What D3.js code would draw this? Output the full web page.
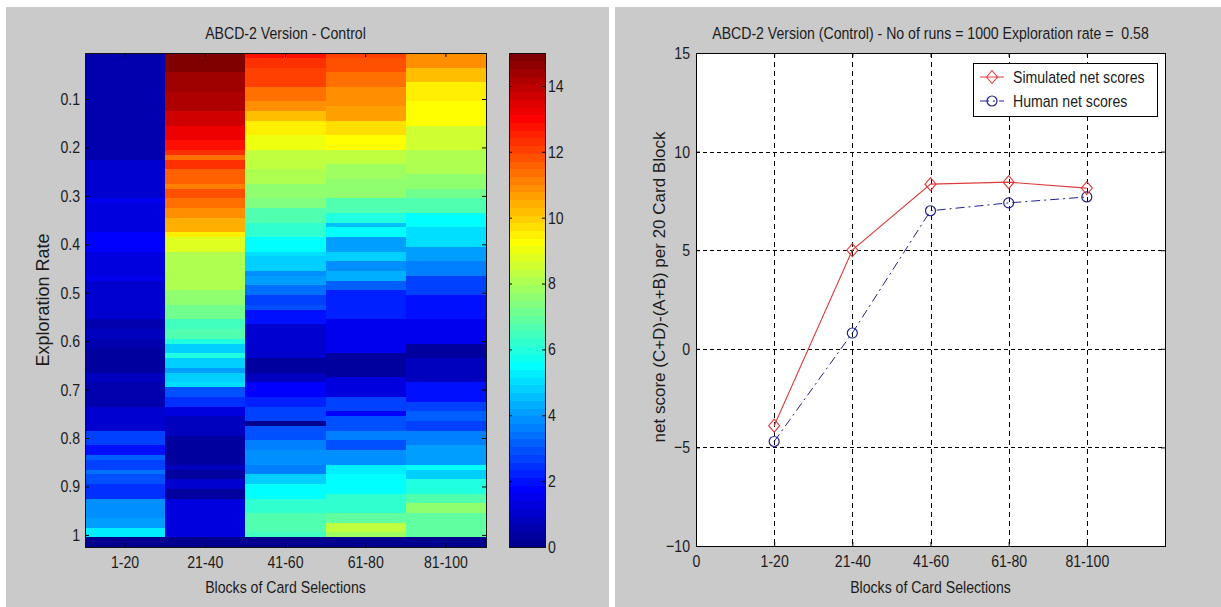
<!DOCTYPE html>
<html>
<head>
<meta charset="utf-8">
<script src="https://cdn.jsdelivr.net/npm/d3@7"></script>
<style>
  html, body { margin: 0; padding: 0; background: #ffffff; }
  svg { display: block; }
  text { font-family: "Liberation Sans Narrow", "Arial Narrow", "Liberation Sans", sans-serif; font-size: 17px; fill: #1c1c1c; white-space: pre; }
  .rot { font-family: "Liberation Sans", Arial, sans-serif; }
</style>
</head>
<body>
<svg id="fig" width="1221" height="607"></svg>
<script>
// ---------------- data ----------------
const blocks = ["1-20", "21-40", "41-60", "61-80", "81-100"];
const rateTicks = [0.1, 0.2, 0.3, 0.4, 0.5, 0.6, 0.7, 0.8, 0.9, 1];
const colorTicks = [0, 2, 4, 6, 8, 10, 12, 14];
const colorLimits = [0, 15];

// exploration rate of each heatmap row (step 0.01), last two rows are the empty tail
const explorationRates = d3.range(1, 103).map(i => i / 100);

// mean net score per exploration rate, one array per block of 20 cards
const block1 = [
  0.6,0.6,0.6,0.6,0.6,0.55,0.55,0.55,0.55,0.55,
  0.6,0.6,0.6,0.6,0.6,0.65,0.65,0.65,0.65,0.65,
  0.65,0.65,1.1,1.1,1.1,1.1,1.1,1.1,1.1,1.1,
  1.6,1.3,1.3,1.3,1.3,1.3,1.3,1.7,1.7,1.7,
  1.7,1.3,1.3,1.3,1.3,1.3,1.5,1.1,1.1,1.1,
  1.1,1.1,1.1,1.1,1.1,0.5,0.5,0.9,0.9,0.6,
  0.6,0.3,0.3,0.3,0.3,0.3,0.8,0.8,0.5,0.5,
  0.5,0.5,0.5,1.1,1.1,1.0,1.0,1.0,2.6,2.6,
  2.6,2.0,2.0,3.2,2.6,2.6,3.4,3.0,3.0,2.5,
  2.5,2.5,3.9,3.9,3.9,3.9,4.1,4.1,5.2,5.2,
  0,0
];
const block2 = [
  14.8,14.8,14.8,14.8,14.5,14.5,14.5,14.5,14.2,14.2,
  14.2,14.2,13.8,13.8,13.8,13.3,13.3,13.3,12.8,12.8,
  12.2,11.3,12.3,12.3,11.6,11.6,11.6,11.2,11.8,11.8,
  11.4,11.4,11.0,11.0,10.4,10.4,10.4,9.6,8.7,8.7,
  8.7,8.2,8.2,8.2,8.2,8.2,8.2,8.2,8.2,7.6,
  7.6,7.6,7.1,7.1,7.1,6.4,6.4,6.7,6.7,6.0,
  4.9,4.9,6.0,4.7,4.7,4.1,4.7,4.7,5.0,3.0,
  3.0,2.4,2.4,1.3,1.3,0.9,0.9,0.9,0.9,0.3,
  0.3,0.3,0.3,0.3,0.3,0.9,0.45,0.45,1.1,1.1,
  0.3,0.3,1.3,1.3,1.3,1.3,1.3,1.3,1.3,1.3,
  0,0
];
const block3 = [
  12.8,12.4,12.4,12.0,12.0,12.0,12.0,11.4,11.4,11.4,
  10.9,10.9,10.3,10.3,9.6,9.6,9.6,9.0,9.0,9.0,
  8.4,8.4,8.4,8.4,8.0,8.0,8.0,7.7,7.7,7.7,
  7.3,7.3,6.7,6.7,6.7,6.2,6.2,6.2,5.6,5.6,
  5.6,5.1,4.7,4.7,4.7,3.8,4.1,4.1,3.4,3.4,
  2.8,2.8,3.0,2.1,2.1,2.1,1.1,1.1,1.1,1.1,
  1.1,1.1,1.1,0.4,0.4,0.4,0.9,0.9,1.7,1.7,
  1.7,2.2,2.2,2.8,2.8,2.8,0.2,3.0,3.0,3.0,
  3.6,3.6,3.9,3.9,3.9,3.6,3.6,4.9,4.9,5.4,
  5.4,5.4,6.2,6.2,6.2,6.7,6.7,6.7,6.7,6.5,
  0,0
];
const block4 = [
  12.0,11.8,11.8,11.8,11.4,11.4,11.4,11.0,11.0,11.0,
  11.0,10.6,10.6,10.6,9.7,9.7,9.7,9.2,9.2,9.2,
  8.4,8.4,8.4,7.9,7.9,7.9,7.5,7.5,7.5,7.5,
  6.7,6.7,6.7,6.0,6.0,4.5,5.4,5.4,4.1,4.1,
  4.1,4.7,4.7,3.9,3.9,4.3,4.3,3.2,3.2,2.2,
  2.2,2.2,2.2,2.2,2.2,1.5,1.5,1.5,1.5,1.5,
  1.5,1.5,0.4,0.4,0.4,0.4,0.4,1.3,1.3,1.3,
  1.3,2.8,2.8,2.8,1.8,3.0,3.0,3.0,3.6,3.6,
  3.0,3.0,3.8,3.8,3.8,5.2,5.2,5.6,5.6,5.6,
  5.6,6.2,6.2,6.2,6.2,7.0,7.0,8.4,8.4,7.9,
  0,0
];
const block5 = [
  10.9,10.9,10.9,10.3,10.3,10.3,9.6,9.6,9.6,9.6,
  9.2,9.2,9.2,9.2,9.2,8.6,8.6,8.6,8.6,8.6,
  8.2,8.2,8.2,8.2,8.2,7.5,7.5,7.5,7.1,7.1,
  6.7,6.7,6.7,5.6,5.6,5.6,5.1,5.1,5.1,5.1,
  4.1,4.1,4.1,3.6,3.6,3.6,2.6,2.6,2.6,2.6,
  2.0,2.0,2.0,2.0,2.0,1.5,1.5,1.5,1.5,1.5,
  0.4,0.4,0.4,0.9,0.9,0.9,0.9,0.9,2.0,2.0,
  2.0,2.0,2.6,2.6,3.2,3.2,2.6,2.6,3.6,3.6,
  3.6,4.1,4.1,4.1,4.1,5.6,4.9,4.9,6.0,6.0,
  6.0,6.7,6.7,7.5,7.5,6.9,6.9,6.9,6.9,7.0,
  0,0
];
const blockSeries = [block1, block2, block3, block4, block5];

// net score curves at exploration rate 0.58
const blockPositions = [1, 2, 3, 4, 5];
const simulatedScores = [-3.9, 5.0, 8.35, 8.45, 8.15];
const humanScores = [-4.7, 0.8, 7.0, 7.4, 7.7];
const xTickLabels = ["0", "1-20", "21-40", "41-60", "61-80", "81-100"];
const scoreTicks = [-10, -5, 0, 5, 10, 15];

// ---------------- jet colormap (64 entries) ----------------
function jetMap(n) {
  const m = Math.ceil(n / 4);
  const u = [];
  for (let i = 1; i <= m; i++) u.push(i / m);
  for (let i = 1; i < m; i++) u.push(1);
  for (let i = m; i >= 1; i--) u.push(i / m);
  const off = Math.ceil(m / 2) - (n % 4 === 1 ? 1 : 0);
  const J = d3.range(n).map(() => [0, 0, 0]);
  u.forEach((val, j) => {
    const g = off + j + 1;          // 1-based row indices
    const r = g + m, b = g - m;
    if (g >= 1 && g <= n) J[g - 1][1] = val;
    if (r >= 1 && r <= n) J[r - 1][0] = val;
    if (b >= 1 && b <= n) J[b - 1][2] = val;
  });
  return J.map(c => d3.rgb(c[0] * 255, c[1] * 255, c[2] * 255).formatHex());
}
const cmap = jetMap(64);
const colorIndex = d3.scaleQuantize().domain(colorLimits).range(d3.range(cmap.length));
const colorOf = v => cmap[colorIndex(Math.max(colorLimits[0], Math.min(colorLimits[1] - 1e-9, v)))];

// ---------------- figure ----------------
const svg = d3.select("#fig");
const panelFill = "#cacaca";
svg.append("rect").attr("x", 6).attr("y", 7).attr("width", 603).attr("height", 600).attr("fill", panelFill);
svg.append("rect").attr("x", 615).attr("y", 7).attr("width", 606).attr("height", 600).attr("fill", panelFill);

// ===== left: heatmap =====
const hm = { left: 85, right: 486, top: 53, bottom: 547 };
const rateStep = 0.01;
const xBlock = d3.scaleBand().domain(blocks).range([hm.left, hm.right]);
const yRate = d3.scaleLinear()
  .domain([explorationRates[0] - rateStep / 2, explorationRates[explorationRates.length - 1] + rateStep / 2])
  .range([hm.top, hm.bottom]);

const cells = [];
blockSeries.forEach((series, j) => {
  series.forEach((v, i) => cells.push({ block: blocks[j], rate: explorationRates[i], value: v }));
});
const heat = svg.append("g").attr("shape-rendering", "crispEdges");
heat.selectAll("rect").data(cells).join("rect")
  .attr("x", d => xBlock(d.block))
  .attr("width", xBlock.bandwidth() + 0.5)
  .attr("y", d => yRate(d.rate - rateStep / 2))
  .attr("height", d => yRate(d.rate + rateStep / 2) - yRate(d.rate - rateStep / 2) + 0.5)
  .attr("fill", d => colorOf(d.value));

const tickLen = 4;
// y axis (left) with labels, ticks pointing inward
const yAxisL = svg.append("g").attr("transform", `translate(${hm.left},0)`)
  .call(d3.axisLeft(yRate).tickValues(rateTicks).tickSizeInner(-tickLen).tickSizeOuter(0).tickPadding(5)
    .tickFormat(d => d === 1 ? "1" : d3.format(".1f")(d)));
yAxisL.select(".domain").remove();
// right-side ticks
const yAxisR = svg.append("g").attr("transform", `translate(${hm.right},0)`)
  .call(d3.axisRight(yRate).tickValues(rateTicks).tickSizeInner(-tickLen).tickSizeOuter(0).tickFormat(""));
yAxisR.select(".domain").remove();
// bottom axis with block labels
const xAxisB = svg.append("g").attr("transform", `translate(0,${hm.bottom})`)
  .call(d3.axisBottom(xBlock).tickSizeInner(-tickLen).tickSizeOuter(0).tickPadding(9));
xAxisB.select(".domain").remove();
const xAxisT = svg.append("g").attr("transform", `translate(0,${hm.top})`)
  .call(d3.axisTop(xBlock).tickSizeInner(-tickLen).tickSizeOuter(0).tickFormat(""));
xAxisT.select(".domain").remove();

svg.append("rect").attr("x", hm.left).attr("y", hm.top)
  .attr("width", hm.right - hm.left).attr("height", hm.bottom - hm.top)
  .attr("fill", "none").attr("stroke", "#111").attr("stroke-width", 1).attr("shape-rendering", "crispEdges");

svg.append("text").attr("x", (hm.left + hm.right) / 2).attr("y", 33).attr("dy", "0.35em")
  .attr("text-anchor", "middle").text("ABCD-2 Version - Control");
svg.append("text").attr("x", (hm.left + hm.right) / 2).attr("y", 587).attr("dy", "0.35em")
  .attr("text-anchor", "middle").text("Blocks of Card Selections");
svg.append("text").attr("class", "rot").attr("transform", `translate(43,${(hm.top + hm.bottom) / 2}) rotate(-90)`)
  .attr("dy", "0.35em").attr("text-anchor", "middle").style("font-size", "18px").text("Exploration Rate");

// ===== colorbar =====
const cb = { left: 509, right: 545, top: 53, bottom: 547 };
const yColor = d3.scaleLinear().domain(colorLimits).range([cb.bottom, cb.top]);
const step = (colorLimits[1] - colorLimits[0]) / cmap.length;
svg.append("g").attr("shape-rendering", "crispEdges")
  .selectAll("rect").data(cmap).join("rect")
  .attr("x", cb.left).attr("width", cb.right - cb.left)
  .attr("y", (c, k) => yColor(colorLimits[0] + (k + 1) * step))
  .attr("height", (c, k) => yColor(colorLimits[0] + k * step) - yColor(colorLimits[0] + (k + 1) * step) + 0.5)
  .attr("fill", c => c);
const cbR = svg.append("g").attr("transform", `translate(${cb.right},0)`)
  .call(d3.axisRight(yColor).tickValues(colorTicks).tickSizeInner(-3).tickSizeOuter(0).tickPadding(3));
cbR.select(".domain").remove();
const cbL = svg.append("g").attr("transform", `translate(${cb.left},0)`)
  .call(d3.axisLeft(yColor).tickValues(colorTicks).tickSizeInner(-3).tickSizeOuter(0).tickFormat(""));
cbL.select(".domain").remove();
svg.append("rect").attr("x", cb.left).attr("y", cb.top)
  .attr("width", cb.right - cb.left).attr("height", cb.bottom - cb.top)
  .attr("fill", "none").attr("stroke", "#111").attr("shape-rendering", "crispEdges");

// ===== right: net score curves =====
const lc = { left: 696, right: 1165, top: 53, bottom: 546 };
const xPos = d3.scaleLinear().domain([0, 6]).range([lc.left, lc.right]);
const yScore = d3.scaleLinear().domain([-10, 15]).range([lc.bottom, lc.top]);

svg.append("rect").attr("x", lc.left).attr("y", lc.top)
  .attr("width", lc.right - lc.left).attr("height", lc.bottom - lc.top).attr("fill", "#ffffff");

// dotted grid
const grid = svg.append("g").attr("stroke", "#000").attr("stroke-width", 1).attr("shape-rendering", "crispEdges");
grid.selectAll("line.v").data(blockPositions).join("line").attr("class", "v")
  .attr("x1", d => Math.round(xPos(d)) + 0.5).attr("x2", d => Math.round(xPos(d)) + 0.5)
  .attr("y1", lc.top).attr("y2", lc.bottom).attr("stroke-dasharray", "5,4");
grid.selectAll("line.h").data(scoreTicks.filter(t => t > -10 && t < 15)).join("line").attr("class", "h")
  .attr("y1", d => Math.round(yScore(d)) + 0.5).attr("y2", d => Math.round(yScore(d)) + 0.5)
  .attr("x1", lc.left).attr("x2", lc.right).attr("stroke-dasharray", "4,3");

// axes
const xTickPos = d3.range(xTickLabels.length);
const axB = svg.append("g").attr("transform", `translate(0,${lc.bottom})`)
  .call(d3.axisBottom(xPos).tickValues(xTickPos).tickSizeInner(-tickLen).tickSizeOuter(0).tickPadding(9)
    .tickFormat(d => xTickLabels[d]));
axB.select(".domain").remove();
const axT = svg.append("g").attr("transform", `translate(0,${lc.top})`)
  .call(d3.axisTop(xPos).tickValues(xTickPos.concat([6])).tickSizeInner(-tickLen).tickSizeOuter(0).tickFormat(""));
axT.select(".domain").remove();
const axL = svg.append("g").attr("transform", `translate(${lc.left},0)`)
  .call(d3.axisLeft(yScore).tickValues(scoreTicks).tickSizeInner(-tickLen).tickSizeOuter(0).tickPadding(6));
axL.select(".domain").remove();
const axR = svg.append("g").attr("transform", `translate(${lc.right},0)`)
  .call(d3.axisRight(yScore).tickValues(scoreTicks).tickSizeInner(-tickLen).tickSizeOuter(0).tickFormat(""));
axR.select(".domain").remove();
svg.selectAll(".tick line").attr("stroke", "#000");

svg.append("rect").attr("x", lc.left).attr("y", lc.top)
  .attr("width", lc.right - lc.left).attr("height", lc.bottom - lc.top)
  .attr("fill", "none").attr("stroke", "#000").attr("shape-rendering", "crispEdges");

const simColor = "#dd3c3c";
const humColor = "#22228e";
const diamond = s => `M0,${-s}L${s * 0.85},0L0,${s}L${-s * 0.85},0Z`;

const lineGen = d3.line().x(d => xPos(d[0])).y(d => yScore(d[1]));
const simPts = blockPositions.map((p, i) => [p, simulatedScores[i]]);
const humPts = blockPositions.map((p, i) => [p, humanScores[i]]);

svg.append("path").attr("d", lineGen(humPts)).attr("fill", "none")
  .attr("stroke", humColor).attr("stroke-width", 1).attr("stroke-dasharray", "9,4,2,4");
svg.append("path").attr("d", lineGen(simPts)).attr("fill", "none")
  .attr("stroke", simColor).attr("stroke-width", 1.1);

svg.append("g").selectAll("circle").data(humPts).join("circle")
  .attr("cx", d => xPos(d[0])).attr("cy", d => yScore(d[1])).attr("r", 5)
  .attr("fill", "none").attr("stroke", humColor).attr("stroke-width", 1.2);
svg.append("g").selectAll("path").data(simPts).join("path")
  .attr("transform", d => `translate(${xPos(d[0])},${yScore(d[1])})`)
  .attr("d", diamond(6.5)).attr("fill", "none").attr("stroke", simColor).attr("stroke-width", 1.1);

// legend
const lg = { x: 973, y: 63, w: 184, h: 53 };
const legend = svg.append("g");
legend.append("rect").attr("x", lg.x).attr("y", lg.y).attr("width", lg.w).attr("height", lg.h)
  .attr("fill", "#fff").attr("stroke", "#000").attr("shape-rendering", "crispEdges");
const entries = [
  { label: "Simulated net scores", color: simColor, dash: null, marker: "diamond" },
  { label: "Human net scores", color: humColor, dash: "9,4,2,4", marker: "circle" }
];
entries.forEach((e, i) => {
  const cy = lg.y + 14 + i * 24;
  legend.append("line").attr("x1", lg.x + 7).attr("x2", lg.x + 31).attr("y1", cy).attr("y2", cy)
    .attr("stroke", e.color).attr("stroke-dasharray", e.dash);
  if (e.marker === "diamond") {
    legend.append("path").attr("transform", `translate(${lg.x + 19},${cy})`).attr("d", diamond(6.5))
      .attr("fill", "none").attr("stroke", e.color).attr("stroke-width", 1.1);
  } else {
    legend.append("circle").attr("cx", lg.x + 19).attr("cy", cy).attr("r", 5)
      .attr("fill", "none").attr("stroke", e.color).attr("stroke-width", 1.2);
  }
  legend.append("text").attr("x", lg.x + 40).attr("y", cy).attr("dy", "0.35em").text(e.label);
});

svg.append("text").attr("x", (lc.left + lc.right) / 2).attr("y", 33).attr("dy", "0.35em")
  .attr("text-anchor", "middle").text("ABCD-2 Version (Control) - No of runs = 1000 Exploration rate =  0.58");
svg.append("text").attr("x", (lc.left + lc.right) / 2).attr("y", 587).attr("dy", "0.35em")
  .attr("text-anchor", "middle").text("Blocks of Card Selections");
svg.append("text").attr("class", "rot").attr("transform", `translate(659,287) rotate(-90)`)
  .attr("dy", "0.35em").attr("text-anchor", "middle").text("net score (C+D)-(A+B) per 20 Card Block");

// horizontal labels use a condensed face: squeeze each one about its own anchor
const condense = 0.83;
svg.selectAll("text").filter(function () { return !this.classList.contains("rot"); })
  .each(function () {
    const x = +(this.getAttribute("x") || 0);
    this.setAttribute("transform", `translate(${x},0) scale(${condense},1) translate(${-x},0)`);
  });
</script>
</body>
</html>
